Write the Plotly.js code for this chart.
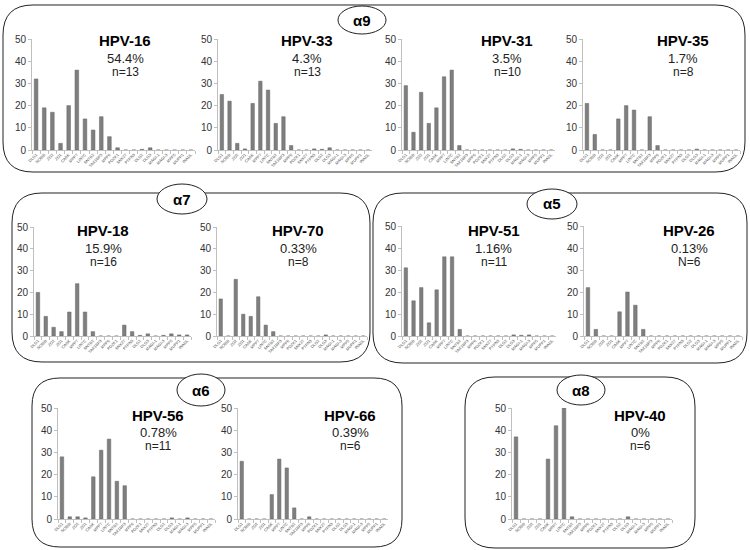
<!DOCTYPE html>
<html>
<head>
<meta charset="utf-8">
<script src="https://cdn.plot.ly/plotly-3.0.1.min.js"></script>
<style>html,body{margin:0;padding:0;background:#fff;}#chart{width:750px;height:550px;}</style>
</head>
<body>
<div id="chart"></div>
<script>
// ---- data ----
const categories = ["DLG1","SCRIB","ZO2","ZO1","CASK","MPP7","LIN7C","SNTB2","TAX1BP3","MPP6","PDZK1","SNX27","PTPN3","DLG2","DLG3","MAGI-1","MAGI-3","MPP5","MUPP1","INADL"];
const hpvTypes = ["HPV-16","HPV-33","HPV-31","HPV-35","HPV-18","HPV-70","HPV-51","HPV-26","HPV-56","HPV-66","HPV-40"];
const prevalence = ["54.4%","4.3%","3.5%","1.7%","15.9%","0.33%","1.16%","0.13%","0.78%","0.39%","0%"];
const counts = ["n=13","n=13","n=10","n=8","n=16","n=8","n=11","N=6","n=11","n=6","n=6"];
const groups = ["α9","α7","α5","α6","α8"];
const hpv16 = [32,19,17,3,20,36,14,9,15,6,1,0,0,0.3,1,0,0,0,0,0];
const hpv33 = [25,22,3,0.5,21,31,27,12,15,2,0,0,0.5,0.3,1,0,0,0,0,0];
const hpv31 = [29,8,26,12,19,33,36,2,0,0,0,0,0,0,0.5,0.3,0,0,0,0];
const hpv35 = [21,7,0,0,14,20,18,0,15,2,0,0,0,0,0.4,0,0,0,0,0];
const hpv18 = [20,9,4,2,11,24,11,2,0,0,0,5,2,0.3,1,0,0.3,1,0.5,0.5];
const hpv70 = [17,0,26,10,9,18,5,2,0,0,0,0,0,0,0.5,0,0,0,0,0];
const hpv51 = [31,16,22,6,21,36,36,3,0,0,0,0,0,0,0.5,0.3,0.5,0,0,0];
const hpv26 = [22,3,0,0,11,20,14,3,0,0,0,0,0,0,0,0,0,0,0,0];
const hpv56 = [28,1,1,0.5,19,31,36,17,15,0,0,0,0,0,0.5,0,0.5,0,0,0];
const hpv66 = [26,0,0,0,11,27,23,5,0,1,0,0,0,0,0,0,0,0,0,0];
const hpv40 = [37,0,0,0,27,42,50,1,0,0,0,0,0,0,1,0,0,0,0,0];
const seriesList = [hpv16,hpv33,hpv31,hpv35,hpv18,hpv70,hpv51,hpv26,hpv56,hpv66,hpv40];

// ---- layout geometry (pixels) ----
const W = 750, H = 550;
const px = v => v / W;
const py = v => 1 - v / H;
// [xLeft, xRight, yTop(50), yBottom(0)]
const plotBoxes = [
  [32,195,39,150],[218,372,39,150],[402,555,39,150],[583,740,39,150],
  [34,191,227,336],[217,367,227,336],[402,556,226,336],[584,742,226,336],
  [58,215,408,519],[238,388,408,519],[512,672,408,519]
];
// text centers: [x, titleY, pctY, nY]
const textPos = [
  [125,40,58,72],[307,40,58,72],[507,40,58,72],[683,40,58,72],
  [103,231,248,262],[298,231,248,262],[494,231,248,262],[689,231,248,262],
  [158,415,432,446],[350,415,432,446],[640,415,432,446]
];
// group boxes [x0,x1,y0,y1,r]
const groupBoxes = [[3,745,5,172,30],[12,370,193,362,30],[373,747,193,363,30],[32,402,378,547,28],[465,695,377,548,30]];
// group ellipses [cx, cy, rx, ry]
const groupEllipses = [[362,20,24,14],[182,199,25,15],[552,204,25,15],[201,390,24,16],[581,390,24,15]];

const traces = [];
const layout = {
  width: W, height: H,
  margin: {l:0, r:0, t:0, b:0},
  paper_bgcolor: '#ffffff',
  plot_bgcolor: 'rgba(0,0,0,0)',
  showlegend: false,
  bargap: 0.55,
  font: {family: 'Liberation Sans, Arial, sans-serif', color: '#333'},
  shapes: [],
  annotations: []
};

seriesList.forEach((vals, i) => {
  const k = i + 1;
  const xa = k === 1 ? 'x' : 'x' + k;
  const ya = k === 1 ? 'y' : 'y' + k;
  traces.push({
    type: 'bar', x: categories, y: vals, xaxis: xa, yaxis: ya,
    marker: {color: '#7f7f7f', line: {color: '#666666', width: 0.5}},
    hoverinfo: 'x+y'
  });
  const b = plotBoxes[i];
  layout['xaxis' + (k === 1 ? '' : k)] = {
    domain: [px(b[0]), px(b[1])], anchor: ya,
    type: 'category', showgrid: false, zeroline: false,
    showline: true, linecolor: '#bfbfbf', linewidth: 1,
    ticks: 'outside', ticklen: 3, tickcolor: '#bfbfbf', tickson: 'boundaries',
    tickangle: -45, tickfont: {size: 4, color: '#444'}, automargin: false
  };
  layout['yaxis' + (k === 1 ? '' : k)] = {
    domain: [py(b[3]), py(b[2])], anchor: xa,
    range: [0, 50], dtick: 10, showgrid: false, zeroline: false,
    showline: true, linecolor: '#bfbfbf', linewidth: 1,
    ticks: 'outside', ticklen: 3, tickcolor: '#bfbfbf',
    tickfont: {size: 10, color: '#333'}, automargin: false
  };
  const t = textPos[i];
  layout.annotations.push(
    {xref:'paper', yref:'paper', x:px(t[0]), y:py(t[1]), text:'<b>'+hpvTypes[i]+'</b>', showarrow:false, xanchor:'center', yanchor:'middle', font:{size:15, color:'#000'}},
    {xref:'paper', yref:'paper', x:px(t[0]), y:py(t[2]), text:prevalence[i], showarrow:false, xanchor:'center', yanchor:'middle', font:{size:13, color:'#222'}},
    {xref:'paper', yref:'paper', x:px(t[0]), y:py(t[3]), text:counts[i], showarrow:false, xanchor:'center', yanchor:'middle', font:{size:12, color:'#222'}}
  );
});

function roundRect(x0, x1, y0, y1, r) {
  const X = v => px(v).toFixed(5), Y = v => py(v).toFixed(5);
  return 'M' + X(x0 + r) + ',' + Y(y0) +
    ' L' + X(x1 - r) + ',' + Y(y0) +
    ' Q' + X(x1) + ',' + Y(y0) + ' ' + X(x1) + ',' + Y(y0 + r) +
    ' L' + X(x1) + ',' + Y(y1 - r) +
    ' Q' + X(x1) + ',' + Y(y1) + ' ' + X(x1 - r) + ',' + Y(y1) +
    ' L' + X(x0 + r) + ',' + Y(y1) +
    ' Q' + X(x0) + ',' + Y(y1) + ' ' + X(x0) + ',' + Y(y1 - r) +
    ' L' + X(x0) + ',' + Y(y0 + r) +
    ' Q' + X(x0) + ',' + Y(y0) + ' ' + X(x0 + r) + ',' + Y(y0) + ' Z';
}
groupBoxes.forEach(g => {
  layout.shapes.push({type:'path', xref:'paper', yref:'paper', path: roundRect(g[0], g[1], g[2], g[3], g[4]), line:{color:'#222', width:1}, layer:'below'});
});
groupEllipses.forEach((e, i) => {
  layout.shapes.push({type:'circle', xref:'paper', yref:'paper', x0:px(e[0]-e[2]), x1:px(e[0]+e[2]), y0:py(e[1]+e[3]), y1:py(e[1]-e[3]), fillcolor:'#ffffff', line:{color:'#222', width:1}, layer:'above'});
  layout.annotations.push({xref:'paper', yref:'paper', x:px(e[0]), y:py(e[1]), text:'<b>'+groups[i]+'</b>', showarrow:false, xanchor:'center', yanchor:'middle', font:{size:15, color:'#000'}});
});

Plotly.newPlot('chart', traces, layout, {staticPlot: true, displayModeBar: false});
</script>
</body>
</html>
